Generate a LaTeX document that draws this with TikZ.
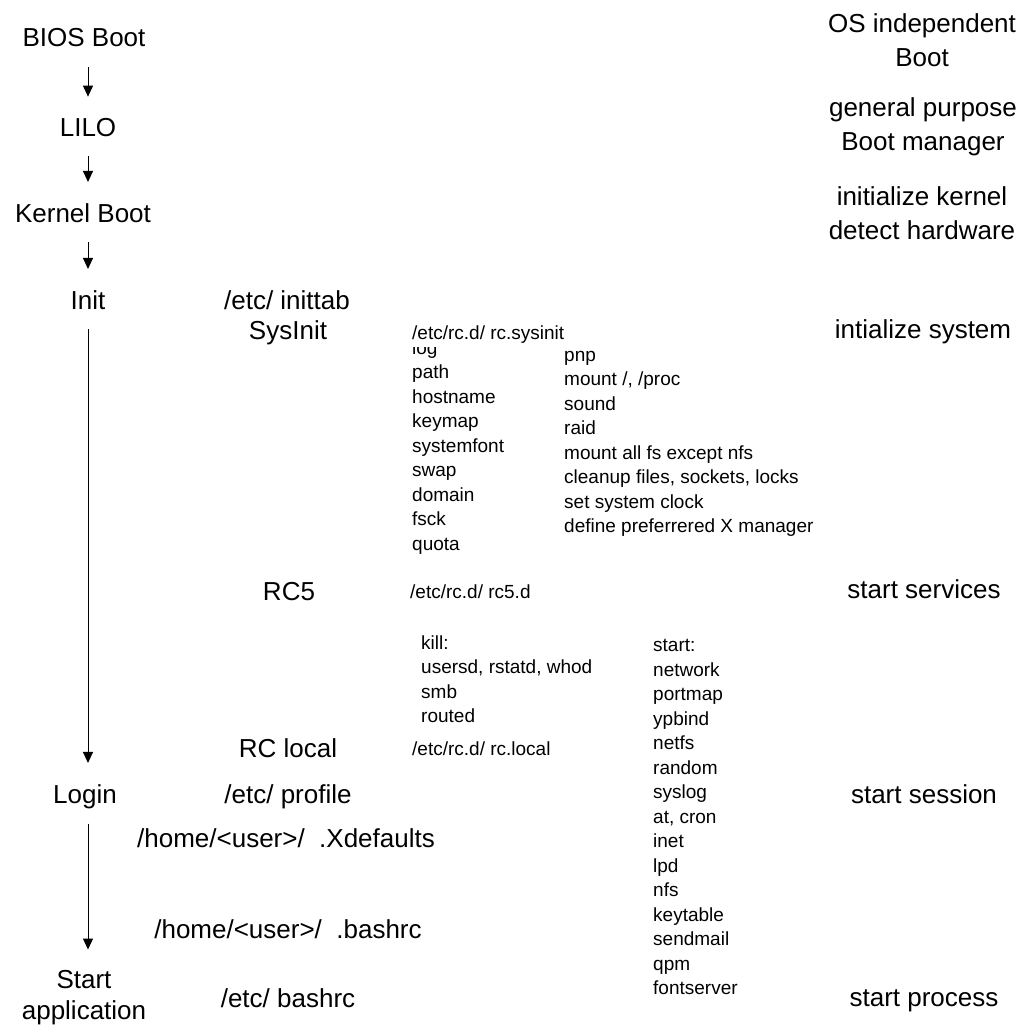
\documentclass[tikz,border=0pt]{standalone}
\usepackage{fontspec}
\setmainfont{Liberation Sans}
\usetikzlibrary{arrows.meta}
\tikzset{
  lbl/.style={font=\fontsize{26}{34}\selectfont, inner sep=0pt, anchor=base},
  desc/.style={font=\fontsize{26}{34}\selectfont, inner sep=0pt, align=center},
  fname/.style={font=\fontsize{19}{24.5}\selectfont, inner sep=0pt, anchor=base west},
  lst/.style={font=\fontsize{19}{24.5}\selectfont, inner sep=0pt, align=left,
              anchor=north west},
  arr/.style={-{Triangle[length=11pt,width=10pt]}, line width=1pt,
              shorten <=20pt, shorten >=21pt}
}
\begin{document}
\begin{tikzpicture}[x=1pt, y=-1pt]
  \useasboundingbox (0,0) rectangle (1022,1030);
  % boot stages
  \node[lbl] (bios) at (84,47) {BIOS Boot};
  \node[lbl] (lilo) at (88,136) {LILO};
  \node[lbl] (kernel) at (83,222) {Kernel Boot};
  \node[lbl] (init) at (88,309) {Init};
  \node[lbl] (login) at (85,803) {Login};
  \node[desc, font=\fontsize{26}{31}\selectfont] (start) at (84,998) {Start\\application};
  % config files
  \node[lbl] (inittab) at (287,309) {/etc/ inittab};
  \node[lbl] (sysinit) at (288,339) {SysInit};
  \node[lbl] (rcfive) at (289,600) {RC5};
  \node[lbl] (rclocal) at (288,757) {RC local};
  \node[lbl] (profile) at (288,803) {/etc/ profile};
  \node[lbl] (xdefaults) at (286,847) {/home/<user>/\ \ .Xdefaults};
  \node[lbl] (bashrc) at (288,938) {/home/<user>/\ \ .bashrc};
  \node[lbl] (etcbashrc) at (288,1007) {/etc/ bashrc};
  % what each stage does
  \node[desc] (osboot) at (922,40) {OS independent\\Boot};
  \node[desc] (bootmgr) at (923,127) {general purpose\\Boot manager};
  \node[desc] (kerninit) at (922,213) {initialize kernel\\detect hardware};
  \node[lbl] (sysdesc) at (923,338) {intialize system};
  \node[lbl] (svcdesc) at (924,598) {start services};
  \node[lbl] (sessdesc) at (924,803) {start session};
  \node[lbl] (procdesc) at (924,1006) {start process};
  % scripts
  \node[lst] (sysa) at (412,340.4) {log\\path\\hostname\\keymap\\systemfont\\swap\\domain\\fsck\\quota};
  \node[fname, fill=white, text depth=8pt] (sysinitf) at (412,339) {/etc/rc.d/ rc.sysinit};
  \node[lst] (sysb) at (564,351) {pnp\\mount /, /proc\\sound\\raid\\mount all fs except nfs\\cleanup files, sockets, locks\\set system clock\\define preferrered X manager};
  \node[fname] (rcfivef) at (410,598) {/etc/rc.d/ rc5.d};
  \node[lst] (killlst) at (421,635.4) {kill:\\usersd, rstatd, whod\\smb\\routed};
  \node[fname] (rclocalf) at (412,755) {/etc/rc.d/ rc.local};
  \node[lst] (startlst) at (653,639.3) {start:\\network\\portmap\\ypbind\\netfs\\random\\syslog\\at, cron\\inet\\lpd\\nfs\\keytable\\sendmail\\qpm\\fontserver};
  % arrows
  \draw[arr] (bios.south -| lilo.north) -- (lilo.north);
  \draw[arr] (lilo.south) -- (lilo.south |- kernel.north);
  \draw[arr] (kernel.south -| init) -- (init.north);
  \draw[arr] (init.south) -- (init.south |- login.north);
  \draw[arr, shorten <=15pt] (login.south -| init) -- (init |- start.north);
\end{tikzpicture}
\end{document}
